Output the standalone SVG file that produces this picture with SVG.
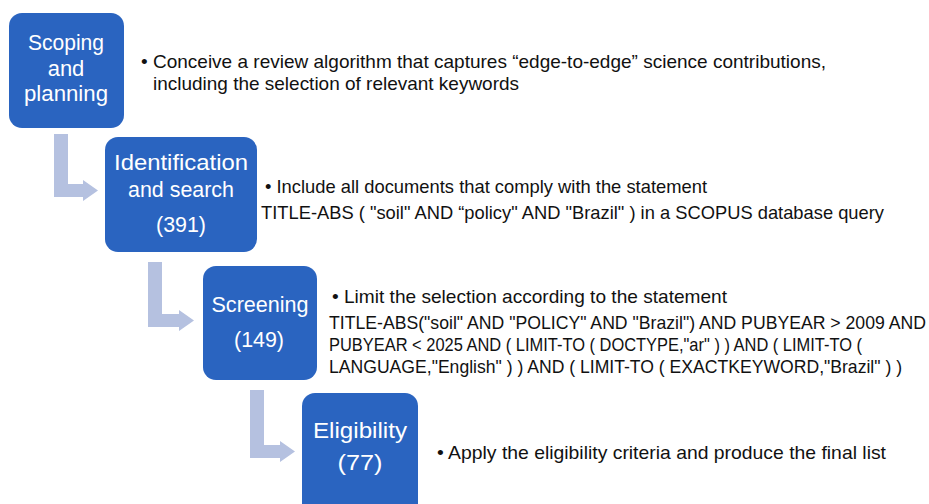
<svg xmlns="http://www.w3.org/2000/svg" width="929" height="504" viewBox="0 0 929 504">
<style>
.box{fill:#2A64C0;}
.arr{fill:#B5C1E0;}
.bt{font-family:"Liberation Sans",Arial,sans-serif;font-size:22px;fill:#FFFFFF;text-anchor:middle;}
.tx{font-family:"Liberation Sans",Arial,sans-serif;font-size:19px;fill:#111111;}
</style>
<rect width="929" height="504" fill="#FFFFFF"/>
<g id="connectors">
<path class="arr" d="M54,134 H68 V184 H83 V180 L98,190.5 L83,201 V197 H54 Z"/>
<path class="arr" d="M148,262 H162 V314 H179 V310 L194,320.5 L179,331 V327 H148 Z"/>
<path class="arr" d="M250,390 H264 V445 H280 V441 L295,451.5 L280,462 V458 H250 Z"/>
</g>
<g id="node-scoping">
<rect class="box" x="9" y="13" width="115" height="115" rx="13"/>
<text class="bt" x="66" y="50" textLength="76" lengthAdjust="spacingAndGlyphs">Scoping</text>
<text class="bt" x="66" y="76">and</text>
<text class="bt" x="66" y="101" textLength="84" lengthAdjust="spacingAndGlyphs">planning</text>
</g>
<g id="node-identification">
<rect class="box" x="105" y="137" width="152" height="115" rx="13"/>
<text class="bt" x="181" y="170" textLength="134" lengthAdjust="spacingAndGlyphs">Identification</text>
<text class="bt" x="181" y="197" textLength="106" lengthAdjust="spacingAndGlyphs">and search</text>
<text class="bt" x="181" y="232" textLength="50" lengthAdjust="spacingAndGlyphs">(391)</text>
</g>
<g id="node-screening">
<rect class="box" x="203" y="266" width="114" height="114" rx="13"/>
<text class="bt" x="260" y="312" textLength="97" lengthAdjust="spacingAndGlyphs">Screening</text>
<text class="bt" x="259" y="347" textLength="50" lengthAdjust="spacingAndGlyphs">(149)</text>
</g>
<g id="node-eligibility">
<rect class="box" x="302" y="393" width="116" height="125" rx="13"/>
<text class="bt" x="360" y="438" textLength="94" lengthAdjust="spacingAndGlyphs">Eligibility</text>
<text class="bt" x="360" y="470" textLength="45" lengthAdjust="spacingAndGlyphs">(77)</text>
</g>
<g id="text-scoping">
<text class="tx" x="141" y="68" textLength="685" lengthAdjust="spacingAndGlyphs">• Conceive a review algorithm that captures “edge-to-edge” science contributions,</text>
<text class="tx" x="153" y="90" textLength="366" lengthAdjust="spacingAndGlyphs">including the selection of relevant keywords</text>
</g>
<g id="text-identification">
<text class="tx" x="265" y="193" textLength="442" lengthAdjust="spacingAndGlyphs">• Include all documents that comply with the statement</text>
<text class="tx" x="261" y="219" textLength="623" lengthAdjust="spacingAndGlyphs">TITLE-ABS ( "soil" AND “policy" AND "Brazil" ) in a SCOPUS database query</text>
</g>
<g id="text-screening">
<text class="tx" x="332" y="303" textLength="395" lengthAdjust="spacingAndGlyphs">• Limit the selection according to the statement</text>
<text class="tx" x="329" y="329" textLength="597" lengthAdjust="spacingAndGlyphs">TITLE-ABS("soil" AND "POLICY" AND "Brazil") AND PUBYEAR &gt; 2009 AND</text>
<text class="tx" x="329" y="351" textLength="533" lengthAdjust="spacingAndGlyphs">PUBYEAR &lt; 2025 AND ( LIMIT-TO ( DOCTYPE,"ar" ) ) AND ( LIMIT-TO (</text>
<text class="tx" x="329" y="373" textLength="573" lengthAdjust="spacingAndGlyphs">LANGUAGE,"English" ) ) AND ( LIMIT-TO ( EXACTKEYWORD,"Brazil" ) )</text>
</g>
<g id="text-eligibility">
<text class="tx" x="437" y="459" textLength="449" lengthAdjust="spacingAndGlyphs">• Apply the eligibility criteria and produce the final list</text>
</g>
</svg>
